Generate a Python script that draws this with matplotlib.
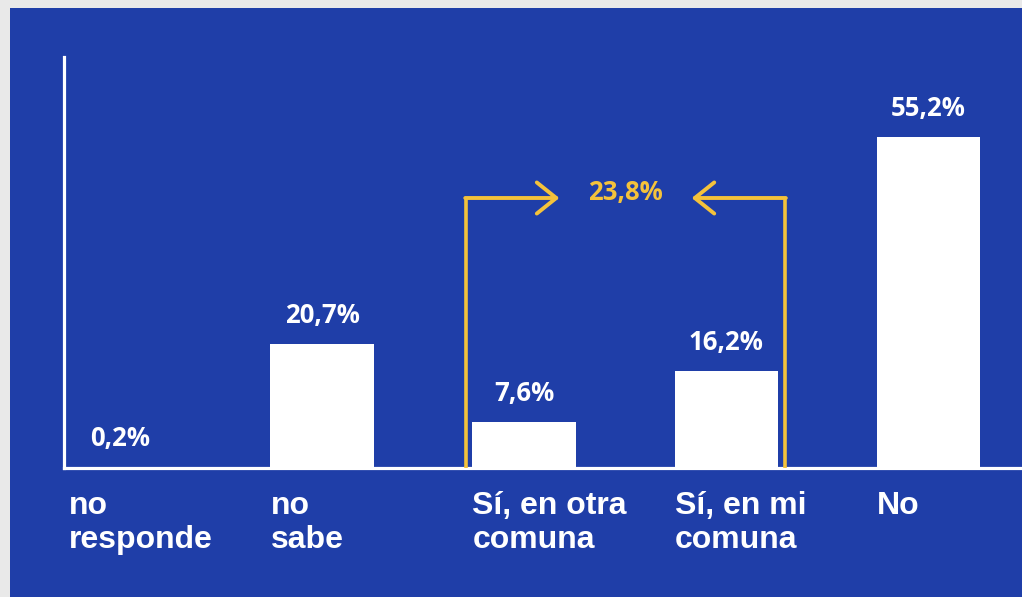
import matplotlib.pyplot as plt
from matplotlib.patches import Rectangle

# survey answers
categories = ['no\nresponde', 'no\nsabe', 'Sí, en otra\ncomuna', 'Sí, en mi\ncomuna', 'No']
values = [0.2, 20.7, 7.6, 16.2, 55.2]
labels = ['0,2%', '20,7%', '7,6%', '16,2%', '55,2%']
total_si = '23,8%'

blue = '#1f3ea8'
yellow = '#f4c23b'

fig = plt.figure(figsize=(10.22, 5.97), dpi=100, facecolor='#e9e9e9')
fig.patches.append(Rectangle((10 / 1022, 0), 1, 589 / 597, transform=fig.transFigure,
                             facecolor=blue, edgecolor='none', zorder=-5))

ax = fig.add_axes([64 / 1022, 129 / 597, 1 - 64 / 1022, 411 / 597])
ax.patch.set_alpha(0)

x = list(range(len(values)))
w = 0.51
ax.bar(x, values, width=w, color='white', zorder=2)

ax.set_xlim(-0.277, 4.465)
ax.set_ylim(0, 68.5)
for s in ['top', 'right']:
    ax.spines[s].set_visible(False)
for s in ['left', 'bottom']:
    ax.spines[s].set_color('white')
    ax.spines[s].set_linewidth(2.3)
ax.set_xticks([])
ax.set_yticks([])

num_font = dict(family='Open Sans', fontweight='bold', fontstretch='normal', fontsize=18.5)

# value labels
for i, (v, t) in enumerate(zip(values, labels)):
    ax.annotate(t, (i, v), xytext=(0, 11), textcoords='offset points',
                ha='center', va='bottom', color='white', **num_font)

# category labels below the axis
for i, c in enumerate(categories):
    ax.text(i - w / 2, -3.9, c, ha='left', va='top', color='white', fontsize=23,
            fontweight='bold', family='Liberation Sans', linespacing=1.15, clip_on=False)

# bracket joining the two "Sí" bars
by = 45
xl = 2 - w / 2 - 0.03
xr = 3 + w / 2 + 0.035
arr = 0.46
for xb, direction in [(xl, 1), (xr, -1)]:
    ax.plot([xb, xb], [0, by], color=yellow, lw=2.6, solid_capstyle='butt', zorder=3)
    ax.annotate('', xy=(xb + direction * arr, by), xytext=(xb - direction * 0.006, by),
                arrowprops=dict(arrowstyle='->,head_length=1.0,head_width=0.8',
                                color=yellow, lw=2.8, shrinkA=0, shrinkB=0,
                                mutation_scale=14, capstyle='round', joinstyle='round'))
ax.text((xl + xr) / 2, by + 0.9, total_si, ha='center', va='center', color=yellow, **num_font)

fig.savefig('out.png', dpi=100, facecolor=fig.get_facecolor())
